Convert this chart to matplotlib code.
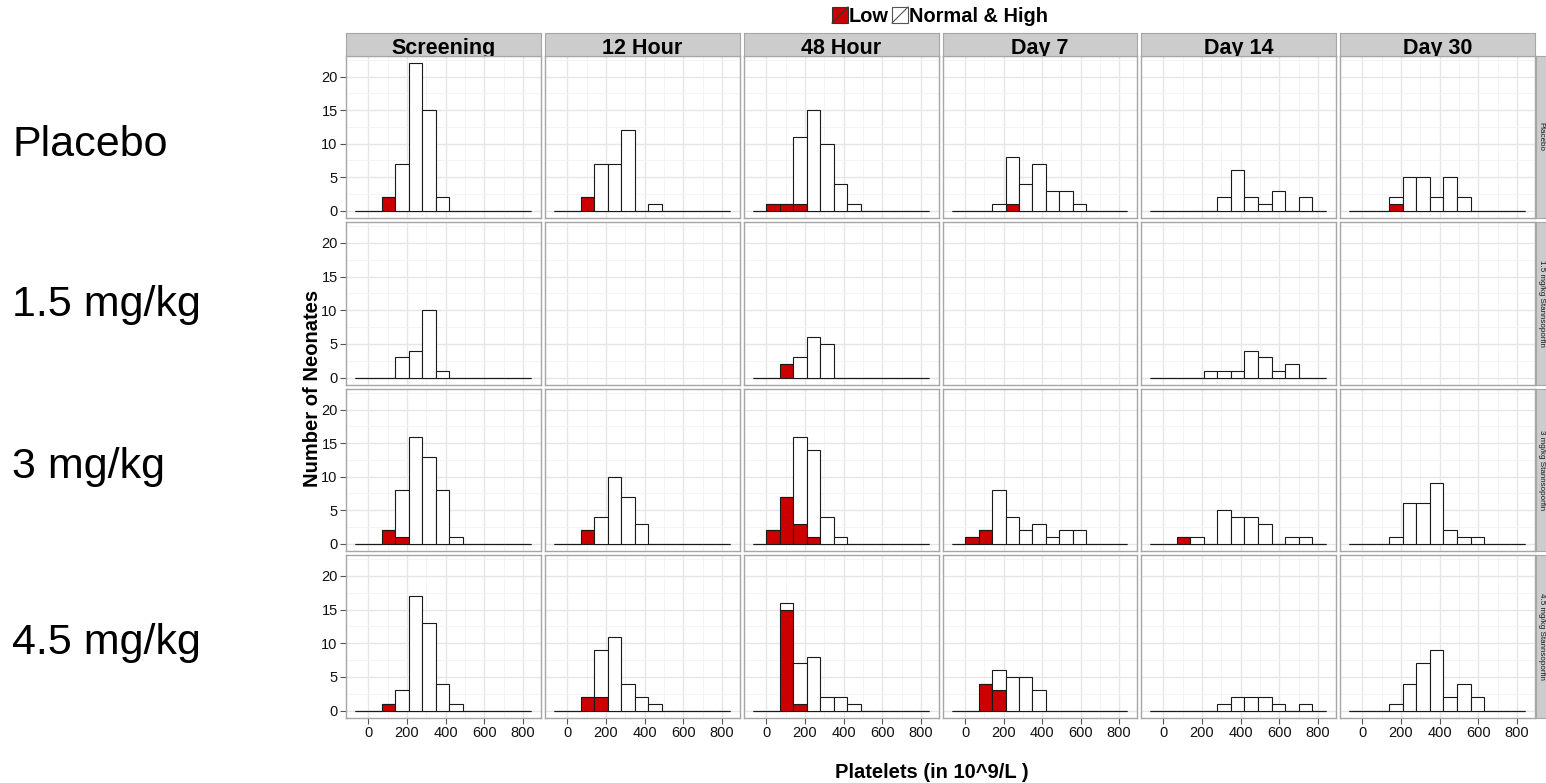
import matplotlib.pyplot as plt
from matplotlib.patches import Rectangle
import numpy as np

plt.rcParams['font.family'] = ['Liberation Sans', 'DejaVu Sans']

# bins of 70 from -70 to 840 (13 bins)
bin_left = [-70, 0, 70, 140, 210, 280, 350, 420, 490, 560, 630, 700, 770]
bin_width = 70

times = ["Screening", "12 Hour", "48 Hour", "Day 7", "Day 14", "Day 30"]
groups = ["Placebo", "1.5 mg/kg", "3 mg/kg", "4.5 mg/kg"]
strip_groups = ["Placebo", "1.5 mg/kg Stannsoporfin", "3 mg/kg Stannsoporfin",
                "4.5 mg/kg Stannsoporfin"]

# counts per bin, one list per time point (None = no data)
placebo_low = [
    [0, 0, 2, 0, 0, 0, 0, 0, 0, 0, 0, 0, 0],
    [0, 0, 2, 0, 0, 0, 0, 0, 0, 0, 0, 0, 0],
    [0, 1, 1, 1, 0, 0, 0, 0, 0, 0, 0, 0, 0],
    [0, 0, 0, 0, 1, 0, 0, 0, 0, 0, 0, 0, 0],
    [0, 0, 0, 0, 0, 0, 0, 0, 0, 0, 0, 0, 0],
    [0, 0, 0, 1, 0, 0, 0, 0, 0, 0, 0, 0, 0],
]
placebo_normal = [
    [0, 0, 0, 7, 22, 15, 2, 0, 0, 0, 0, 0, 0],
    [0, 0, 0, 7, 7, 12, 0, 1, 0, 0, 0, 0, 0],
    [0, 0, 0, 10, 15, 10, 4, 1, 0, 0, 0, 0, 0],
    [0, 0, 0, 1, 7, 4, 7, 3, 3, 1, 0, 0, 0],
    [0, 0, 0, 0, 0, 2, 6, 2, 1, 3, 0, 2, 0],
    [0, 0, 0, 1, 5, 5, 2, 5, 2, 0, 0, 0, 0],
]
dose15_low = [
    [0, 0, 0, 0, 0, 0, 0, 0, 0, 0, 0, 0, 0],
    None,
    [0, 0, 2, 0, 0, 0, 0, 0, 0, 0, 0, 0, 0],
    None,
    [0, 0, 0, 0, 0, 0, 0, 0, 0, 0, 0, 0, 0],
    None,
]
dose15_normal = [
    [0, 0, 0, 3, 4, 10, 1, 0, 0, 0, 0, 0, 0],
    None,
    [0, 0, 0, 3, 6, 5, 0, 0, 0, 0, 0, 0, 0],
    None,
    [0, 0, 0, 0, 1, 1, 1, 4, 3, 1, 2, 0, 0],
    None,
]
dose3_low = [
    [0, 0, 2, 1, 0, 0, 0, 0, 0, 0, 0, 0, 0],
    [0, 0, 2, 0, 0, 0, 0, 0, 0, 0, 0, 0, 0],
    [0, 2, 7, 3, 1, 0, 0, 0, 0, 0, 0, 0, 0],
    [0, 1, 2, 0, 0, 0, 0, 0, 0, 0, 0, 0, 0],
    [0, 0, 1, 0, 0, 0, 0, 0, 0, 0, 0, 0, 0],
    [0, 0, 0, 0, 0, 0, 0, 0, 0, 0, 0, 0, 0],
]
dose3_normal = [
    [0, 0, 0, 7, 16, 13, 8, 1, 0, 0, 0, 0, 0],
    [0, 0, 0, 4, 10, 7, 3, 0, 0, 0, 0, 0, 0],
    [0, 0, 0, 13, 13, 4, 1, 0, 0, 0, 0, 0, 0],
    [0, 0, 0, 8, 4, 2, 3, 1, 2, 2, 0, 0, 0],
    [0, 0, 0, 1, 0, 5, 4, 4, 3, 0, 1, 1, 0],
    [0, 0, 0, 1, 6, 6, 9, 2, 1, 1, 0, 0, 0],
]
dose45_low = [
    [0, 0, 1, 0, 0, 0, 0, 0, 0, 0, 0, 0, 0],
    [0, 0, 2, 2, 0, 0, 0, 0, 0, 0, 0, 0, 0],
    [0, 0, 15, 1, 0, 0, 0, 0, 0, 0, 0, 0, 0],
    [0, 0, 4, 3, 0, 0, 0, 0, 0, 0, 0, 0, 0],
    [0, 0, 0, 0, 0, 0, 0, 0, 0, 0, 0, 0, 0],
    [0, 0, 0, 0, 0, 0, 0, 0, 0, 0, 0, 0, 0],
]
dose45_normal = [
    [0, 0, 0, 3, 17, 13, 4, 1, 0, 0, 0, 0, 0],
    [0, 0, 0, 7, 11, 4, 2, 1, 0, 0, 0, 0, 0],
    [0, 0, 1, 6, 8, 2, 2, 1, 0, 0, 0, 0, 0],
    [0, 0, 0, 3, 5, 5, 3, 0, 0, 0, 0, 0, 0],
    [0, 0, 0, 0, 0, 1, 2, 2, 2, 1, 0, 1, 0],
    [0, 0, 0, 1, 4, 7, 9, 2, 4, 2, 0, 0, 0],
]

low_rows = [placebo_low, dose15_low, dose3_low, dose45_low]
normal_rows = [placebo_normal, dose15_normal, dose3_normal, dose45_normal]

RED = '#cc0000'
BORDER = '#a6a6a6'

W, H = 1546, 783
fig = plt.figure(figsize=(W / 100, H / 100), dpi=100)


def px_axes(x0, y0, x1, y1):
    return fig.add_axes([x0 / W, 1 - y1 / H, (x1 - x0) / W, (y1 - y0) / H])


col_x = [(346, 541), (545, 740), (744, 939), (943, 1137), (1141, 1336), (1340, 1535)]
row_y = [(56, 218), (222, 385), (389, 551), (555, 718)]

# overlay for free text
ov = fig.add_axes([0, 0, 1, 1])
ov.set_xlim(0, W)
ov.set_ylim(H, 0)
ov.axis('off')

for r in range(4):
    for c in range(6):
        ax = px_axes(col_x[c][0], row_y[r][0], col_x[c][1], row_y[r][1])
        ax.set_xlim(-115, 893)
        ax.set_ylim(-1.1, 23.1)
        ax.set_xticks([0, 200, 400, 600, 800])
        ax.set_xticks([100, 300, 500, 700], minor=True)
        ax.set_yticks([0, 5, 10, 15, 20])
        ax.set_yticks([2.5, 7.5, 12.5, 17.5, 22.5], minor=True)
        ax.grid(which='major', color='#e6e6e6', lw=1.0)
        ax.grid(which='minor', color='#f3f3f3', lw=0.6)
        ax.set_axisbelow(True)
        for s in ax.spines.values():
            s.set_color(BORDER)
            s.set_linewidth(1.0)
        ax.tick_params(which='minor', length=0)
        ax.tick_params(which='major', length=4, width=0.8, color='#555555',
                       labelsize=10.5, labelcolor='#111111', pad=2)
        if c != 0:
            ax.tick_params(left=False, labelleft=False)
        if r != 3:
            ax.tick_params(bottom=False, labelbottom=False)

        low = low_rows[r][c]
        normal = normal_rows[r][c]
        if low is not None:
            ax.bar(bin_left, low, width=bin_width, align='edge', color=RED,
                   edgecolor='#1a1a1a', linewidth=0.8, zorder=3)
            ax.bar(bin_left, normal, bottom=low, width=bin_width, align='edge',
                   color='white', edgecolor='#1a1a1a', linewidth=0.8, zorder=3)

        # right strip
        if c == 5:
            sx = px_axes(1536, row_y[r][0], 1546, row_y[r][1])
            sx.set_facecolor('#cccccc')
            sx.set_xticks([])
            sx.set_yticks([])
            for s in sx.spines.values():
                s.set_color(BORDER)
            sx.text(0.5, 0.5, strip_groups[r], rotation=270, fontsize=5.8,
                    ha='center', va='center', color='#1a1a1a',
                    transform=sx.transAxes)

    # group labels on the far left
    ov.text(12, [156, 316, 478, 654][r], groups[r], fontsize=31,
            ha='left', va='baseline', color='black')

# top strips
for c in range(6):
    st = px_axes(col_x[c][0], 33, col_x[c][1], 56)
    st.set_facecolor('#cccccc')
    st.set_xticks([])
    st.set_yticks([])
    for s in st.spines.values():
        s.set_color(BORDER)
    st.text(0.5, 0.09, times[c], fontsize=15.5, fontweight='bold',
            ha='center', va='baseline', transform=st.transAxes, clip_on=True)

# axis titles
ov.text(313, 388, "Number of Neonates", rotation=90, fontsize=14.5,
        fontweight='bold', ha='center', va='center')
ov.text(932, 772, "Platelets (in 10^9/L )", fontsize=14.5, fontweight='bold',
        ha='center', va='center')

# legend
ov.add_patch(Rectangle((832, 7), 16, 16, facecolor=RED, edgecolor='#333333', lw=0.8))
ov.plot([832, 848], [23, 7], color='#333333', lw=0.8)
ov.text(849, 22, "Low", fontsize=14.4, fontweight='bold', ha='left', va='baseline')
ov.add_patch(Rectangle((892, 7), 16, 16, facecolor='white', edgecolor='#555555', lw=0.8))
ov.plot([892, 908], [23, 7], color='#555555', lw=0.8)
ov.text(909, 22, "Normal & High", fontsize=14.4, fontweight='bold', ha='left',
        va='baseline')

fig.savefig('out.png', dpi=100)
